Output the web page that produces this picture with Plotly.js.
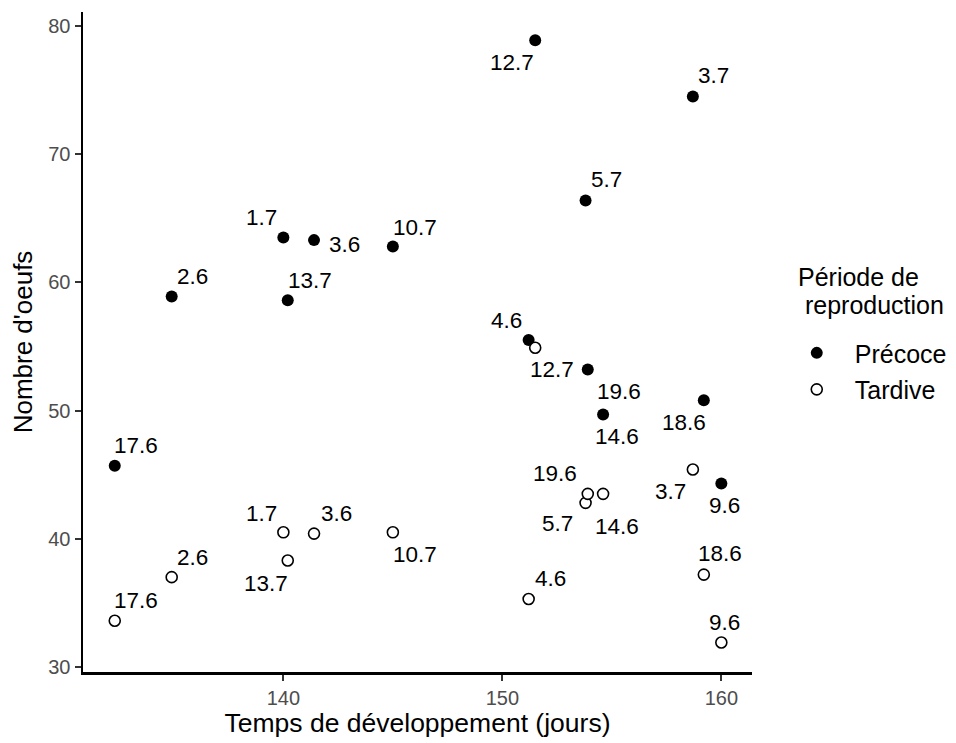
<!DOCTYPE html>
<html>
<head>
<meta charset="utf-8">
<script src="https://cdn.plot.ly/plotly-3.0.1.min.js"></script>
<style>html,body{margin:0;padding:0;background:#fff;}#chart{width:956px;height:743px;}</style>
</head>
<body>
<div id="chart"></div>
<script>
// ---- data ----
const dates = ["17.6","2.6","1.7","3.6","10.7","13.7","12.7","3.7","5.7","4.6","19.6","14.6","18.6","9.6"];
const devTime = [132.3,134.9,140.0,141.4,145.0,140.2,151.5,158.7,153.8,151.2,153.9,154.6,159.2,160.0];
const eggsPrecoce = [45.7,58.9,63.5,63.3,62.8,58.6,78.9,74.5,66.4,55.5,53.2,49.7,50.8,44.3];
const eggsTardive = [33.6,37.0,40.5,40.4,40.5,38.3,54.9,45.4,42.8,35.3,43.5,43.5,37.2,31.9];
const groups = ["Précoce","Tardive"];
const legendTitle = ["Période de", "\u00a0reproduction"];
const xTicks = [140,150,160];
const yTicks = [30,40,50,60,70,80];

// ---- label placement (pixel offsets from each point, ggrepel-like) ----
const shiftP = [[21,20],[21,20],[-22,20],[30,-4],[22,19],[22,20],[-23,-22],[21,21],[21,21],[-22,20],[31,-22],[14,-22],[-20,-22],[3,-22]];
const shiftT = [[21,20],[21,20],[-22,19],[22,20],[22,-22],[-22,-23],[17,-22],[-22,-22],[-28,-21],[22,20],[-33,20],[14,-33],[16,21],[3,20]];

const font = "Arial, 'Liberation Sans', sans-serif";

const traces = [
  {x: devTime, y: eggsPrecoce, name: groups[0], type: "scatter", mode: "markers", legendgroup: "p",
   marker: {color: "#000000", size: 12, line: {width: 0}}, hoverinfo: "skip"},
  {x: devTime, y: eggsTardive, name: groups[1], type: "scatter", mode: "markers", legendgroup: "t",
   marker: {color: "#ffffff", size: 11, line: {color: "#000000", width: 1.6}}, hoverinfo: "skip"}
];

const annotations = [];
dates.forEach((d, i) => {
  annotations.push({x: devTime[i], y: eggsPrecoce[i], text: d, showarrow: false,
    xshift: shiftP[i][0], yshift: shiftP[i][1],
    font: {family: font, size: 22.5, color: "#000"}});
  annotations.push({x: devTime[i], y: eggsTardive[i], text: d, showarrow: false,
    xshift: shiftT[i][0], yshift: shiftT[i][1],
    font: {family: font, size: 22.5, color: "#000"}});
});
// legend title lines
annotations.push({xref: "paper", yref: "paper", x: 1.066, y: 0.598, xanchor: "left", yanchor: "middle",
  text: legendTitle[0], showarrow: false, font: {family: font, size: 25, color: "#000"}});
annotations.push({xref: "paper", yref: "paper", x: 1.066, y: 0.556, xanchor: "left", yanchor: "middle",
  text: legendTitle[1], showarrow: false, font: {family: font, size: 25, color: "#000"}});

const layout = {
  width: 956, height: 743,
  margin: {l: 83, r: 204, t: 12, b: 71, autoexpand: false},
  paper_bgcolor: "#fff", plot_bgcolor: "#fff",
  font: {family: font},
  showlegend: true,
  xaxis: {
    range: [130.85, 161.4], tickvals: xTicks, ticktext: xTicks.map(String),
    showgrid: false, zeroline: false, showline: true, linecolor: "#000", linewidth: 2.5,
    ticks: "outside", ticklen: 6, tickwidth: 2, tickcolor: "#333",
    tickfont: {family: font, size: 20, color: "#4d4d4d"},
    title: {text: "Temps de développement (jours)", font: {family: font, size: 26.5, color: "#000"}, standoff: 6}
  },
  yaxis: {
    range: [29.6, 81.1], tickvals: yTicks, ticktext: yTicks.map(String),
    showgrid: false, zeroline: false, showline: true, linecolor: "#000", linewidth: 2.5,
    ticks: "outside", ticklen: 6, tickwidth: 2, tickcolor: "#333",
    tickfont: {family: font, size: 20, color: "#4d4d4d"},
    title: {text: "Nombre d'oeufs", font: {family: font, size: 26, color: "#000"}, standoff: 8}
  },
  legend: {
    x: 1.040, xanchor: "left", y: 0.518, yanchor: "top",
    font: {family: font, size: 25, color: "#000"},
    traceorder: "grouped", tracegroupgap: 1,
    itemwidth: 66, bgcolor: "rgba(0,0,0,0)"
  },
  annotations: annotations
};

Plotly.newPlot("chart", traces, layout, {staticPlot: true, displayModeBar: false});
</script>
</body>
</html>
